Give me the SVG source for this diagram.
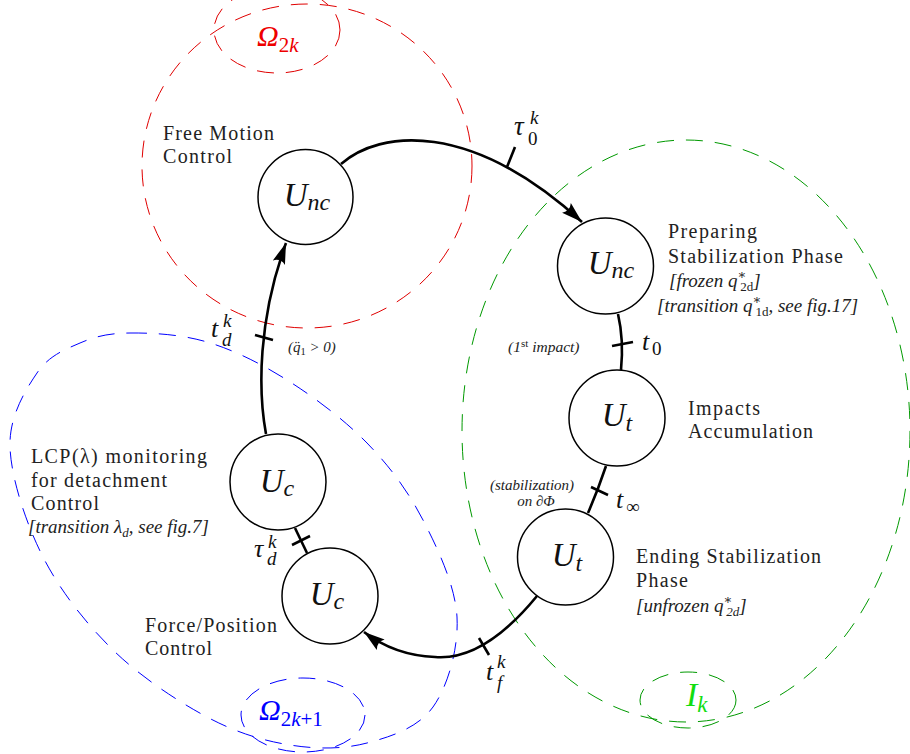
<svg xmlns="http://www.w3.org/2000/svg" width="910" height="754" viewBox="0 0 910 754" font-family="Liberation Serif, DejaVu Serif, serif">
<style>
.reg{fill:none;stroke-width:1;stroke-dasharray:17 12}
.node{fill:#fff;stroke:#000;stroke-width:1.5}
.conn{fill:none;stroke:#000;stroke-width:2.6}
.tick{stroke:#000;stroke-width:2.6}
.lbl{font-size:20px;fill:#222}
.it{font-style:italic;fill:#222}
.math{font-style:italic;fill:#111}
</style>
<defs>
<marker id="arr" markerUnits="userSpaceOnUse" markerWidth="22" markerHeight="14" refX="21" refY="7" orient="auto">
<path d="M0,0.5 Q5,7 0,13.5 L21,7 Z" fill="#000"/>
</marker>
</defs>
<rect width="910" height="754" fill="#fff"/>
<g id="regions">
<ellipse id="omega2k" class="reg" cx="307" cy="166" rx="165" ry="162" stroke="#e00000"/>
<ellipse class="reg" cx="277" cy="30" rx="63" ry="43" stroke="#e00000"/>
<ellipse id="ik" class="reg" cx="686" cy="431" rx="224" ry="291" stroke="#009900"/>
<ellipse class="reg" cx="688" cy="700" rx="48" ry="28" stroke="#009900"/>
<path id="omega2k1" class="reg" stroke="#0000ff" d="M130,333 C151.2,332.8 180.8,334.2 207,342 C233.2,349.8 260.3,363.2 287,380 C313.7,396.8 344.3,419.7 367,443 C389.7,466.3 408,491 423,520 C438,549 455.3,585.8 457,617 C458.7,648.2 448,686 433,707 C418,728 390.8,736.7 367,743 C343.2,749.3 316.7,749.3 290,745 C263.3,740.7 236.5,732.8 207,717 C177.5,701.2 140.3,676.7 113,650 C85.7,623.3 60.2,590.8 43,557 C25.8,523.2 11,477.7 10,447 C9,416.3 25.3,390.3 37,373 C48.7,355.7 64.5,349.7 80,343 C95.5,336.3 108.8,333.2 130,333 Z"/>
<ellipse class="reg" cx="303" cy="715" rx="62" ry="37" stroke="#0000ff"/>
</g>
<g id="region-labels">
<text class="math" x="257" y="46" font-size="30" style="fill:#ee0000">Ω<tspan font-size="21" font-style="normal" dy="6">2</tspan><tspan font-size="21">k</tspan></text>
<text class="math" x="259" y="720" font-size="30" style="fill:#0000ff">Ω<tspan font-size="21" font-style="normal" dy="6">2</tspan><tspan font-size="21">k</tspan><tspan font-size="21" font-style="normal">+1</tspan></text>
<text class="math" x="686" y="706" font-size="34" style="fill:#11dd11">I<tspan font-size="23" dy="6">k</tspan></text>
</g>
<g id="connectors">
<path class="conn" d="M341,164 C380,130 470,120 582,222" marker-end="url(#arr)"/>
<line class="tick" x1="507" y1="167" x2="515" y2="147"/>
<path class="conn" d="M618,314 Q624,340 621,370"/>
<line class="tick" x1="612" y1="346" x2="633" y2="342"/>
<path class="conn" d="M606,466 Q598,490 588,513"/>
<line class="tick" x1="591" y1="487" x2="608" y2="495"/>
<path class="conn" d="M537,596 C505,635 470,660 435,657 C410,656 385,648 364,632" marker-end="url(#arr)"/>
<line class="tick" x1="479" y1="638" x2="489" y2="655"/>
<path class="conn" d="M307,553 L295,528"/>
<line class="tick" x1="292" y1="545" x2="310" y2="536"/>
<path class="conn" d="M266,434 C258,390 258,320 286,243" marker-end="url(#arr)"/>
<line class="tick" x1="255" y1="335" x2="273" y2="340"/>
</g>
<g id="connector-labels">
<text class="math" x="514" y="135" font-size="27">τ<tspan x="528" y="145" font-size="19" font-style="normal">0</tspan><tspan x="530" y="124" font-size="19">k</tspan></text>
<text class="math" x="642" y="350" font-size="26">t<tspan x="652" y="355" font-size="19" font-style="normal">0</tspan></text>
<text class="it" x="508" y="352" font-size="15.5">(1<tspan font-size="11" font-style="normal" dy="-5">st</tspan><tspan dy="5"> impact)</tspan></text>
<text class="math" x="616" y="508" font-size="26">t<tspan x="626" y="513" font-size="19" font-style="normal">∞</tspan></text>
<text class="it" x="532" y="490" font-size="15" text-anchor="middle">(stabilization)</text>
<text class="it" x="536" y="506" font-size="15" text-anchor="middle">on ∂Φ</text>
<text class="math" x="486" y="680" font-size="26">t<tspan x="497" y="668" font-size="19">k</tspan><tspan x="497" y="689" font-size="19">f</tspan></text>
<text class="math" x="211" y="337" font-size="26">t<tspan x="223" y="327" font-size="19">k</tspan><tspan x="222" y="346" font-size="19">d</tspan></text>
<text class="it" x="288" y="352" font-size="15">(q̈<tspan font-size="10.5" font-style="normal" dy="3">1</tspan><tspan dy="-3"> &gt; 0)</tspan></text>
<text class="math" x="254" y="557" font-size="26">τ<tspan x="268" y="548" font-size="19">k</tspan><tspan x="267" y="565" font-size="19">d</tspan></text>
</g>
<g id="node-free-motion">
<circle class="node" cx="305.5" cy="197" r="47.5"/>
<text class="math" x="307" y="206" font-size="33" text-anchor="middle">U<tspan font-size="24" dy="4">nc</tspan></text>
<text class="lbl" x="163" y="140" textLength="111" lengthAdjust="spacing">Free Motion</text>
<text class="lbl" x="163" y="163" textLength="69" lengthAdjust="spacing">Control</text>
</g>
<g id="node-preparing">
<circle class="node" cx="605.5" cy="266" r="48"/>
<text class="math" x="611" y="274" font-size="33" text-anchor="middle">U<tspan font-size="24" dy="4">nc</tspan></text>
<text class="lbl" x="668" y="238" textLength="89" lengthAdjust="spacing">Preparing</text>
<text class="lbl" x="668" y="263" textLength="175" lengthAdjust="spacing">Stabilization Phase</text>
<text class="it" x="669" y="287" font-size="19">[frozen q<tspan font-size="13" font-style="normal" dy="-8">∗</tspan><tspan font-size="13" font-style="normal" dx="-6" dy="12">2d</tspan><tspan dy="-4">]</tspan></text>
<text class="it" x="657" y="312" font-size="19">[transition q<tspan font-size="13" font-style="normal" dy="-8">∗</tspan><tspan font-size="13" font-style="normal" dx="-6" dy="12">1d</tspan><tspan dy="-4">, see fig.17]</tspan></text>
</g>
<g id="node-impacts">
<circle class="node" cx="617" cy="418" r="48"/>
<text class="math" x="617" y="426" font-size="33" text-anchor="middle">U<tspan font-size="24" dy="5">t</tspan></text>
<text class="lbl" x="688" y="415" textLength="72" lengthAdjust="spacing">Impacts</text>
<text class="lbl" x="688" y="438" textLength="125" lengthAdjust="spacing">Accumulation</text>
</g>
<g id="node-ending">
<circle class="node" cx="565.5" cy="557" r="48"/>
<text class="math" x="567" y="566" font-size="33" text-anchor="middle">U<tspan font-size="24" dy="5">t</tspan></text>
<text class="lbl" x="636" y="563" textLength="185" lengthAdjust="spacing">Ending Stabilization</text>
<text class="lbl" x="636" y="587" textLength="52" lengthAdjust="spacing">Phase</text>
<text class="it" x="636" y="612" font-size="19">[unfrozen q<tspan font-size="13" font-style="normal" dy="-8">∗</tspan><tspan font-size="13" dx="-6" dy="12">2d</tspan><tspan dy="-4">]</tspan></text>
</g>
<g id="node-lcp">
<circle class="node" cx="278" cy="482" r="48"/>
<text class="math" x="277" y="492" font-size="33" text-anchor="middle">U<tspan font-size="24" dy="4">c</tspan></text>
<text class="lbl" x="31" y="463" textLength="176" lengthAdjust="spacing">LCP(λ) monitoring</text>
<text class="lbl" x="31" y="487" textLength="136" lengthAdjust="spacing">for detachment</text>
<text class="lbl" x="31" y="510" textLength="68" lengthAdjust="spacing">Control</text>
<text class="it" x="28" y="533" font-size="19">[transition λ<tspan font-size="13" dy="4">d</tspan><tspan dy="-4">, see fig.7]</tspan></text>
</g>
<g id="node-force">
<circle class="node" cx="330" cy="596" r="48"/>
<text class="math" x="327" y="605" font-size="33" text-anchor="middle">U<tspan font-size="24" dy="4">c</tspan></text>
<text class="lbl" x="145" y="632" textLength="132" lengthAdjust="spacing">Force/Position</text>
<text class="lbl" x="145" y="655" textLength="67" lengthAdjust="spacing">Control</text>
</g>
</svg>
